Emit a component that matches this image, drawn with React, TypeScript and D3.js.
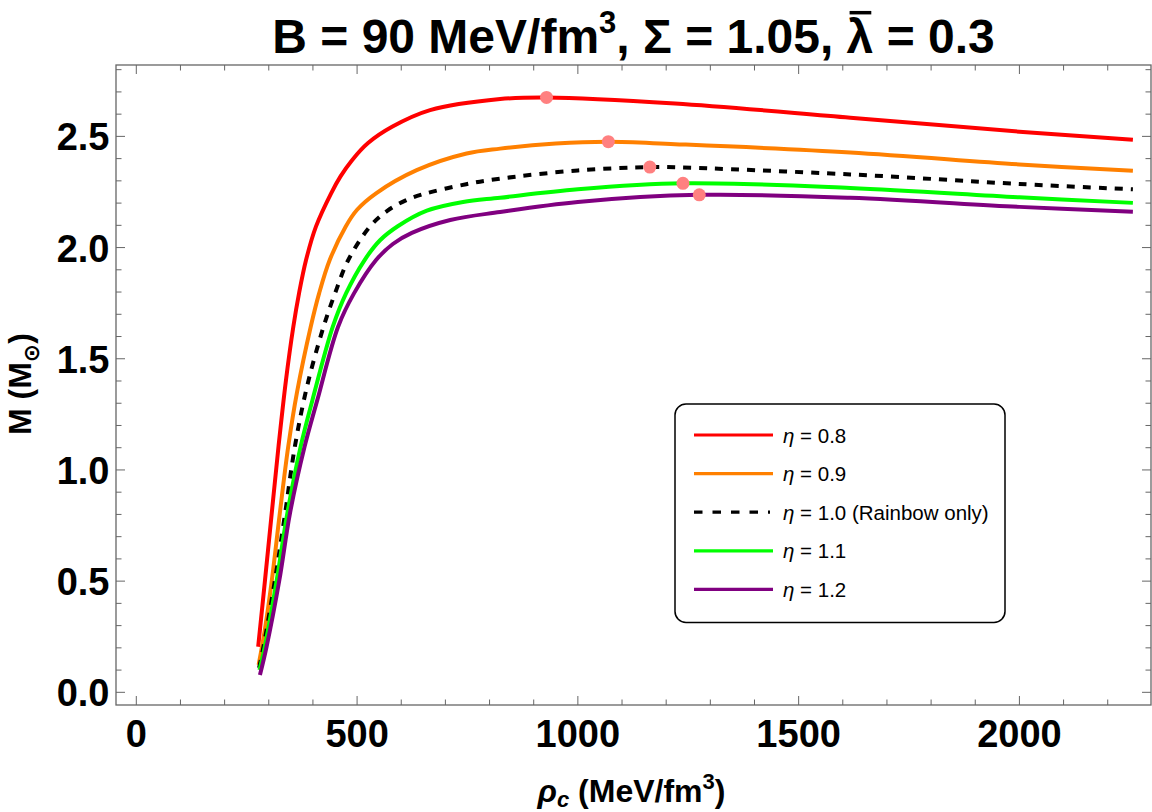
import React, { useRef, useLayoutEffect, useState } from "react";
import * as d3 from "d3";

// values: [rho_c (MeV/fm^3), M (M_sun)]
const eta08: [number, number][] = [
  [276, 0.205], [291.5, 0.505], [306.7, 0.805], [322, 1.105], [339, 1.405],
  [355.6, 1.644], [368.5, 1.794], [384.4, 1.944], [406.8, 2.094], [441.2, 2.244],
  [462.5, 2.32], [488.6, 2.393], [524.8, 2.47], [579.2, 2.543], [665.3, 2.618],
  [824, 2.668], [929, 2.675], [1220, 2.648], [1617, 2.584], [2000, 2.521],
  [2257, 2.485],
];
const eta09: [number, number][] = [
  [277, 0.123], [291, 0.28], [307, 0.505], [325, 0.805], [344, 1.104],
  [364, 1.35], [395, 1.644], [414, 1.794], [438, 1.944], [474, 2.094],
  [500, 2.17], [543, 2.244], [635, 2.348], [748, 2.423], [824, 2.445],
  [950, 2.468], [1069, 2.476], [1220, 2.465], [1617, 2.428], [2000, 2.374],
  [2257, 2.345],
];
const eta10: [number, number][] = [
  [278, 0.11], [288, 0.205], [314, 0.505], [337, 0.805], [359, 1.104],
  [386, 1.37], [424, 1.644], [450, 1.794], [480, 1.944], [529, 2.094],
  [569, 2.166], [609, 2.211], [646, 2.238], [747, 2.285], [824, 2.31],
  [1000, 2.347], [1163, 2.362], [1220, 2.361], [1617, 2.329], [2000, 2.286],
  [2257, 2.262],
];
const eta11: [number, number][] = [
  [279, 0.1], [291, 0.205], [318, 0.505], [342, 0.805], [372, 1.104],
  [399, 1.315], [445, 1.644], [475, 1.794], [517, 1.944], [552, 2.033],
  [593, 2.097], [658, 2.166], [740, 2.205], [824, 2.224], [1000, 2.262],
  [1238, 2.289], [1617, 2.268], [2000, 2.226], [2257, 2.201],
];
const eta12: [number, number][] = [
  [280, 0.078], [295, 0.205], [324, 0.505], [348, 0.805], [381, 1.104],
  [410, 1.315], [457, 1.644], [493, 1.794], [543, 1.944], [581, 2.016],
  [624, 2.066], [711, 2.124], [824, 2.16], [1000, 2.205], [1275, 2.237],
  [1617, 2.224], [2000, 2.183], [2257, 2.161],
];

const etaLabels = ["0.8", "0.9", "1.0 (Rainbow only)", "1.1", "1.2"];
const curves = [eta08, eta09, eta10, eta11, eta12];

// maximum-mass points
const peakRho = [929, 1069, 1163, 1238, 1275];
const peakMass = [2.675, 2.476, 2.362, 2.289, 2.237];

const xTickLabels = [0, 500, 1000, 1500, 2000];
const yTickLabels = [0, 0.5, 1.0, 1.5, 2.0, 2.5];

const lineColors = ["#ff0000", "#ff8000", "#000000", "#00ff00", "#800080"];
const dashed = [false, false, true, false, false];

const FONT = "'Liberation Sans', Arial, 'DejaVu Sans', sans-serif";
const W = 1152;
const H = 812;
const plot = { left: 116, right: 1151, top: 65, bottom: 705 };

export default function App() {
  const lamRef = useRef<SVGTSpanElement>(null);
  const [bar, setBar] = useState<{ x1: number; x2: number } | null>(null);

  useLayoutEffect(() => {
    const el = lamRef.current;
    if (el == null) return;
    const r = el.getExtentOfChar(0);
    setBar({ x1: r.x + 3, x2: r.x + r.width - 2 });
  }, []);

  const x = d3.scaleLinear().domain([-46, 2298]).range([plot.left, plot.right]);
  const y = d3.scaleLinear().domain([-0.057, 2.821]).range([plot.bottom, plot.top]);

  const line = d3
    .line<[number, number]>()
    .x((d) => x(d[0]))
    .y((d) => y(d[1]))
    .curve(d3.curveCatmullRom.alpha(0.5));

  const xMinor = d3.range(0, 2300, 100);
  const yMinor = d3.range(0, 29).map((i) => i / 10);
  const tickColor = "#666";

  const titleY = 53;
  const titleSize = 48;
  const legendRows = etaLabels.map((_, i) => 435 + i * 38.6);

  return (
    <svg
      width={W}
      height={H}
      style={{ position: "absolute", left: 0, top: 0, background: "#fff" }}
      fontFamily={FONT}
    >
      <rect x={0} y={0} width={W} height={H} fill="#fff" />

      {/* ticks */}
      <g stroke={tickColor} strokeWidth={1}>
        {xMinor.map((v) => {
          const len = v % 500 === 0 ? 9 : 5.5;
          return (
            <g key={"xt" + v}>
              <line x1={x(v)} x2={x(v)} y1={plot.bottom} y2={plot.bottom - len} />
              <line x1={x(v)} x2={x(v)} y1={plot.top} y2={plot.top + len} />
            </g>
          );
        })}
        {yMinor.map((v, i) => {
          const len = i % 5 === 0 ? 9 : 5.5;
          return (
            <g key={"yt" + i}>
              <line x1={plot.left} x2={plot.left + len} y1={y(v)} y2={y(v)} />
              <line x1={plot.right} x2={plot.right - len} y1={y(v)} y2={y(v)} />
            </g>
          );
        })}
      </g>

      {/* curves */}
      {curves.map((c, i) => (
        <path
          key={"c" + i}
          d={line(c) ?? ""}
          fill="none"
          stroke={lineColors[i]}
          strokeWidth={4}
          strokeDasharray={dashed[i] ? "8 8" : undefined}
        />
      ))}

      {/* maximum mass points */}
      {peakRho.map((r, i) => (
        <circle key={"p" + i} cx={x(r)} cy={y(peakMass[i])} r={6.5} fill="#ff8080" />
      ))}

      {/* frame */}
      <rect
        x={plot.left}
        y={plot.top}
        width={plot.right - plot.left}
        height={plot.bottom - plot.top}
        fill="none"
        stroke={tickColor}
        strokeWidth={1.3}
      />

      {/* tick labels */}
      <g fontSize={38} fontWeight="bold" fill="#000">
        {xTickLabels.map((v) => (
          <text key={"xl" + v} x={x(v)} y={747} textAnchor="middle">
            {v}
          </text>
        ))}
        {yTickLabels.map((v) => (
          <text key={"yl" + v} x={109.5} y={y(v) + 14} textAnchor="end">
            {v.toFixed(1)}
          </text>
        ))}
      </g>

      {/* title */}
      <text
        x={(plot.left + plot.right) / 2}
        y={titleY}
        textAnchor="middle"
        fontSize={titleSize}
        fontWeight="bold"
      >
        {"B = 90 MeV/fm"}
        <tspan fontSize={31} dy={-20}>3</tspan>
        <tspan dy={20}>{", Σ = 1.05, "}</tspan>
        <tspan ref={lamRef}>λ</tspan>
        {" = 0.3"}
      </text>
      {bar && (
        <line
          x1={bar.x1}
          x2={bar.x2}
          y1={titleY - 0.84 * titleSize}
          y2={titleY - 0.84 * titleSize}
          stroke="#000"
          strokeWidth={3.5}
        />
      )}

      {/* axis labels */}
      <text
        transform={"translate(31,384) rotate(-90)"}
        textAnchor="middle"
        fontSize={32}
        fontWeight="bold"
      >
        {"M (M"}
        <tspan fontSize={22} dy={8}>⊙</tspan>
        <tspan dy={-8}>)</tspan>
      </text>
      <text x={631.5} y={802} textAnchor="middle" fontSize={32} fontWeight="bold">
        <tspan fontStyle="italic">ρ</tspan>
        <tspan fontStyle="italic" fontSize={22} dy={5}>c</tspan>
        <tspan dy={-5}>{" (MeV/fm"}</tspan>
        <tspan fontSize={22} dy={-13}>3</tspan>
        <tspan dy={13}>)</tspan>
      </text>

      {/* legend */}
      <rect
        x={675}
        y={404}
        width={330}
        height={218.5}
        rx={11}
        ry={11}
        fill="#fff"
        stroke="#000"
        strokeWidth={1.5}
      />
      {etaLabels.map((lab, i) => (
        <g key={"lg" + i}>
          <line
            x1={694}
            x2={dashed[i] ? 770 : 773}
            y1={legendRows[i]}
            y2={legendRows[i]}
            stroke={lineColors[i]}
            strokeWidth={3.2}
            strokeDasharray={dashed[i] ? "8.5 10" : undefined}
          />
          <text x={783} y={legendRows[i] + 7.5} fontSize={20.5} fill="#000">
            <tspan fontStyle="italic">η</tspan>
            {" = " + lab}
          </text>
        </g>
      ))}
    </svg>
  );
}
